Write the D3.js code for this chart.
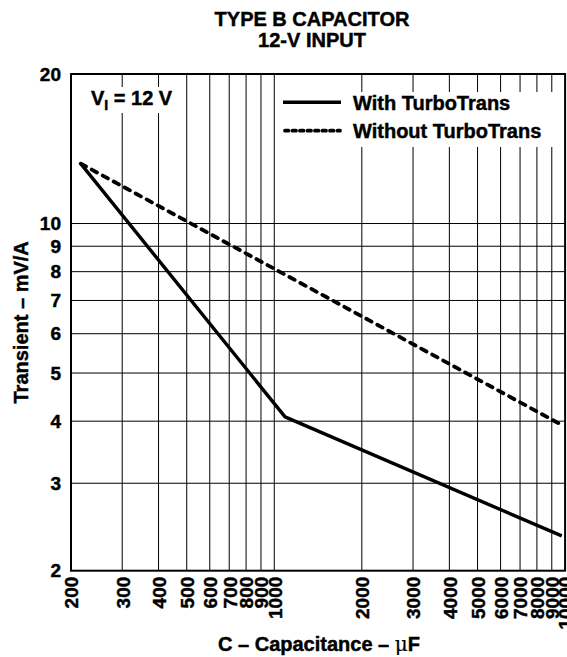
<!DOCTYPE html>
<html><head><meta charset="utf-8">
<script src="https://cdn.jsdelivr.net/npm/d3@7"></script>
<style>
html,body{margin:0;padding:0;background:#fff;}
svg{display:block;}
text{font-family:"Liberation Sans",Arial,Helvetica,sans-serif;font-weight:bold;fill:#000;stroke:#000;stroke-width:0.45px;}
</style></head>
<body>
<script>
// ---- data ----
const xTickValues = [200,300,400,500,600,700,800,900,1000,2000,3000,4000,5000,6000,7000,8000,9000,10000];
const xGridValues = [300,400,500,600,700,800,900,1000,2000,3000,4000,5000,6000,7000,8000,9000];
const yTickValues = [2,3,4,5,6,7,8,9,10,20];
const yGridValues = [3,4,5,6,7,8,9,10];
const capWith = [216, 1089, 9740];
const transWith = [13.2, 4.08, 2.35];
const capWithout = [216, 9740];
const transWithout = [13.2, 3.93];
const titleLines = ["TYPE B CAPACITOR", "12-V INPUT"];
const legendLabels = ["With TurboTrans", "Without TurboTrans"];

const W = 567, H = 657;
const svg = d3.select("body").append("svg").attr("width", W).attr("height", H);

const x = d3.scaleLog().domain([200, 10000]).range([71, 565.1]);
const y = d3.scaleLog().domain([2, 20]).range([570.7, 74]);

// title
svg.append("text").attr("x", 312).attr("y", 26).attr("text-anchor", "middle")
  .style("font-size", "20px").text(titleLines[0]);
svg.append("text").attr("x", 312).attr("y", 46.5).attr("text-anchor", "middle")
  .style("font-size", "20px").text(titleLines[1]);

// grid
const g = svg.append("g");
g.selectAll(".vg").data(xGridValues).enter().append("line")
  .attr("x1", d => x(d)).attr("x2", d => x(d)).attr("y1", y(20)).attr("y2", y(2))
  .attr("stroke", "#000").attr("stroke-width", 1);
g.selectAll(".hg").data(yGridValues).enter().append("line")
  .attr("x1", x(200)).attr("x2", x(10000)).attr("y1", d => y(d)).attr("y2", d => y(d))
  .attr("stroke", "#000").attr("stroke-width", 1);

// white boxes behind labels
svg.append("rect").attr("x", 84).attr("y", 87).attr("width", 96).attr("height", 26).attr("fill", "#fff");
svg.append("rect").attr("x", 277).attr("y", 92).attr("width", 279).attr("height", 55).attr("fill", "#fff");

// frame
svg.append("rect").attr("x", x(200)).attr("y", y(20)).attr("width", x(10000) - x(200)).attr("height", y(2) - y(20))
  .attr("fill", "none").attr("stroke", "#000").attr("stroke-width", 2);

// axes tick labels
const xAxis = d3.axisBottom(x).tickValues(xTickValues).tickFormat(d3.format("d")).tickSize(0).tickPadding(0);
const xa = svg.append("g").attr("transform", `translate(0,${y(2)})`).call(xAxis);
xa.select(".domain").remove();
xa.selectAll("text").attr("transform", "rotate(-90)").attr("x", -6).attr("y", 0).attr("dy", "0.36em")
  .attr("text-anchor", "end").style("font-size", "19px").style("font-family", "Liberation Sans, Arial, sans-serif").style("font-weight", "bold").attr("fill", "#000");

const yAxis = d3.axisLeft(y).tickValues(yTickValues).tickFormat(d3.format("d")).tickSize(0).tickPadding(10);
const ya = svg.append("g").attr("transform", `translate(${x(200)},0)`).call(yAxis);
ya.select(".domain").remove();
ya.selectAll("text").style("font-size", "19px").style("font-family", "Liberation Sans, Arial, sans-serif").style("font-weight", "bold").attr("fill", "#000");

// axis titles
const xt = svg.append("text").attr("x", 319).attr("y", 650.5).attr("text-anchor", "middle").style("font-size", "20px");
xt.append("tspan").text("C – Capacitance – ");
xt.append("tspan").style("font-family", "DejaVu Serif, serif").style("font-weight", "normal").style("stroke-width", "0.2px").text("μ");
xt.append("tspan").text("F");

svg.append("text").attr("transform", `translate(27.5,${(y(2)+y(20))/2}) rotate(-90)`)
  .attr("text-anchor", "middle").style("font-size", "20px").text("Transient – mV/A");

// V_I label
const vl = svg.append("text").attr("x", 91).attr("y", 105).style("font-size", "20px");
vl.append("tspan").text("V");
vl.append("tspan").attr("dy", 5).style("font-size", "14px").text("I");
vl.append("tspan").attr("dy", -5).text(" = 12 V");

// lines
const line = d3.line().x(d => x(d[0])).y(d => y(d[1]));
svg.append("path").datum(d3.zip(capWith, transWith)).attr("d", line)
  .attr("fill", "none").attr("stroke", "#000").attr("stroke-width", 3.4).attr("stroke-linejoin", "round");
svg.append("path").datum(d3.zip(capWithout, transWithout)).attr("d", line)
  .attr("fill", "none").attr("stroke", "#000").attr("stroke-width", 3.8)
  .attr("stroke-dasharray", "6,6.5").attr("stroke-linecap", "round");

// legend
svg.append("line").attr("x1", 283).attr("x2", 341).attr("y1", 102.3).attr("y2", 102.3)
  .attr("stroke", "#000").attr("stroke-width", 3.4);
svg.append("line").attr("x1", 285).attr("x2", 340).attr("y1", 130.7).attr("y2", 130.7)
  .attr("stroke", "#000").attr("stroke-width", 3.8).attr("stroke-dasharray", "3.5,4").attr("stroke-linecap", "round");
svg.append("text").attr("x", 353).attr("y", 109.5).style("font-size", "20px").text(legendLabels[0]);
svg.append("text").attr("x", 353).attr("y", 138).style("font-size", "20px").text(legendLabels[1]);
</script>
</body></html>
